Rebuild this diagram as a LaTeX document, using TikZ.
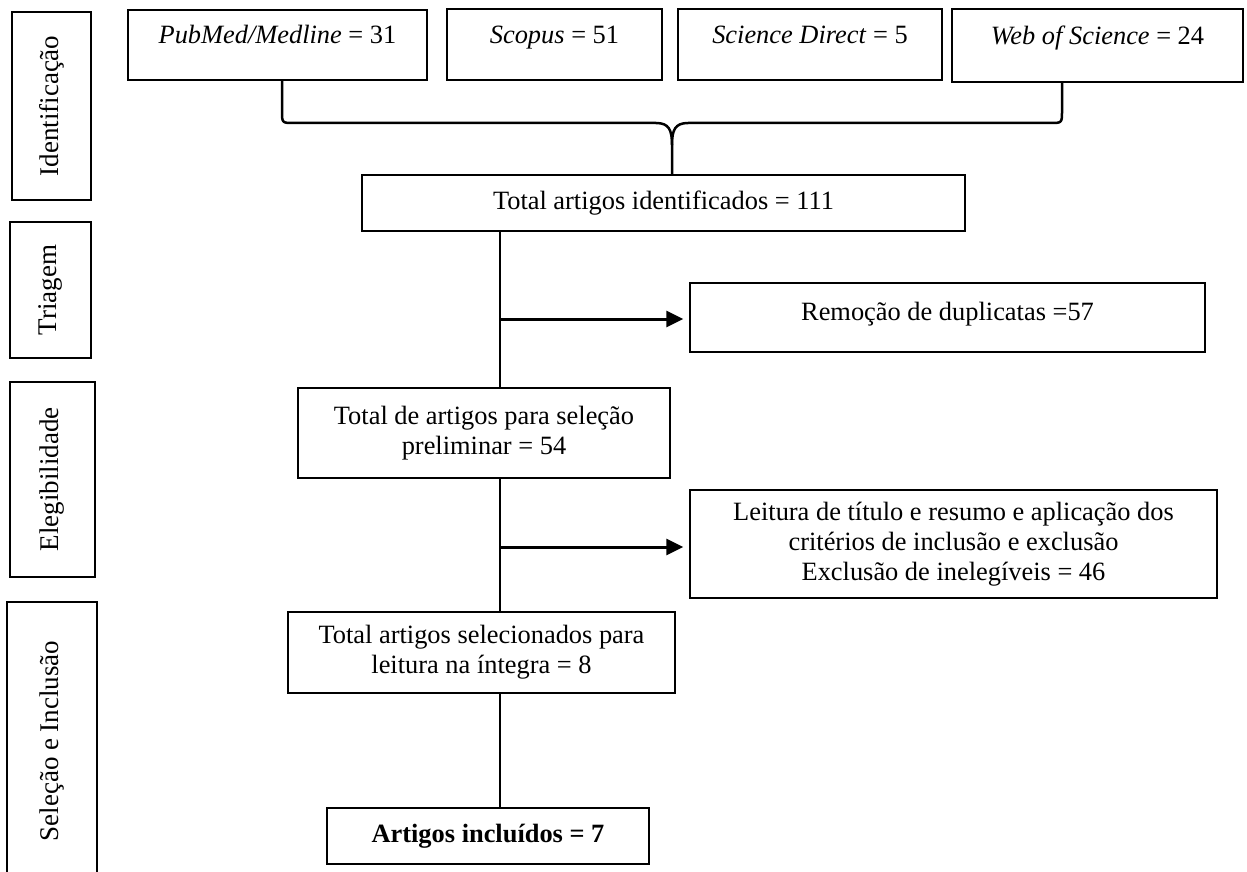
\documentclass[tikz,border=0pt]{standalone}
\usepackage{fontspec}
\setmainfont{Liberation Serif}
\usetikzlibrary{arrows.meta,calc}
\begin{document}
\begin{tikzpicture}[x=0.5pt,y=-0.5pt,
  font=\fontsize{13.2}{15}\selectfont,
  box/.style={draw, line width=0.75pt, inner sep=0pt, align=center},
  sz/.style 2 args={minimum width=#1*0.5pt, minimum height=#2*0.5pt},
  toptext/.style={text height=9pt, text depth=10.4pt},
  uptext/.style={text height=9pt, text depth=5.9pt},
  phase/.style={draw, line width=0.9pt, inner sep=0pt, font=\fontsize{13.5}{16}\selectfont},
  link/.style={line width=1pt},
  arr/.style={line width=1.5pt, -{Triangle[length=8.5pt,width=8pt]}, shorten >=3pt},
  brace/.style={line width=1.25pt, line join=round}]
\useasboundingbox (0,0) rectangle (1247,872);

% phase labels
\node[phase, sz={79}{188}] (pid) at (51.5,106) {\rotatebox{90}{Identificação}};
\node[phase, sz={81}{136}] (ptr) at (50.5,290) {\rotatebox{90}{Triagem}};
\node[phase, sz={85}{195}] (pel) at (52.5,479.5) {\rotatebox{90}{Elegibilidade}};
\node[phase, draw=none, sz={88}{276}] (psel) at (52,741) {\rotatebox{90}{Seleção e Inclusão}};
\draw[line width=0.9pt] (psel.south west) -- (psel.north west) -- (psel.north east) -- (psel.south east);

% sources
\node[box, toptext, sz={299}{70}] (pub) at (277.5,45) {\textit{PubMed/Medline} = 31};
\node[box, toptext, sz={215}{71}] (sco) at (554.5,44.5) {\textit{Scopus} = 51};
\node[box, toptext, sz={264}{71}] (sd) at (810,44.5) {\textit{Science Direct} = 5};
\node[box, toptext, sz={291}{73}] (wos) at (1097.5,45.5) {\textit{Web of Science} = 24};

% main flow
\node[box, sz={603}{56}] (tid) at (663.5,203) {Total artigos identificados = 111};
\node[box, uptext, sz={515}{69}] (dup) at (947.5,317.5) {Remoção de duplicatas =57};
\node[box, sz={372}{90}] (pre) at (484,433) {Total de artigos para seleção\\preliminar = 54};
\node[box, sz={527}{108}] (lei) at (953.5,544) {Leitura de título e resumo e aplicação dos\\critérios de inclusão e exclusão\\ Exclusão de inelegíveis = 46};
\node[box, sz={387}{81}] (sel) at (481.5,652.5) {Total artigos selecionados para\\leitura na íntegra = 8};
\node[box, sz={322}{56}] (inc) at (488,836) {\textbf{Artigos incluídos = 7}};

% brace from sources to total
\coordinate (bL) at (282,0);
\coordinate (bM) at (672,0);
\coordinate (bR) at (1062,0);
\draw[brace] (pub.south -| bL) -- (282,111) .. controls (282,123) .. (294,123) -- (656,123)
  .. controls (669,123) and (672,130) .. (672,145) -- (tid.north -| bM);
\draw[brace] (672,145) .. controls (672,130) and (675,123) .. (688,123) -- (1050,123)
  .. controls (1062,123) .. (1062,111) -- (wos.south -| bR);

% spine
\coordinate (spine) at (500,0);
\draw[link] (tid.south -| spine) -- (pre.north -| spine);
\draw[link] (pre.south -| spine) -- (sel.north -| spine);
\draw[link] (sel.south -| spine) -- (inc.north -| spine);
\coordinate (a1) at (0,319);
\coordinate (a2) at (0,547);
\draw[arr] (spine |- a1) -- (dup.west |- a1);
\draw[arr] (spine |- a2) -- (lei.west |- a2);
\end{tikzpicture}
\end{document}
